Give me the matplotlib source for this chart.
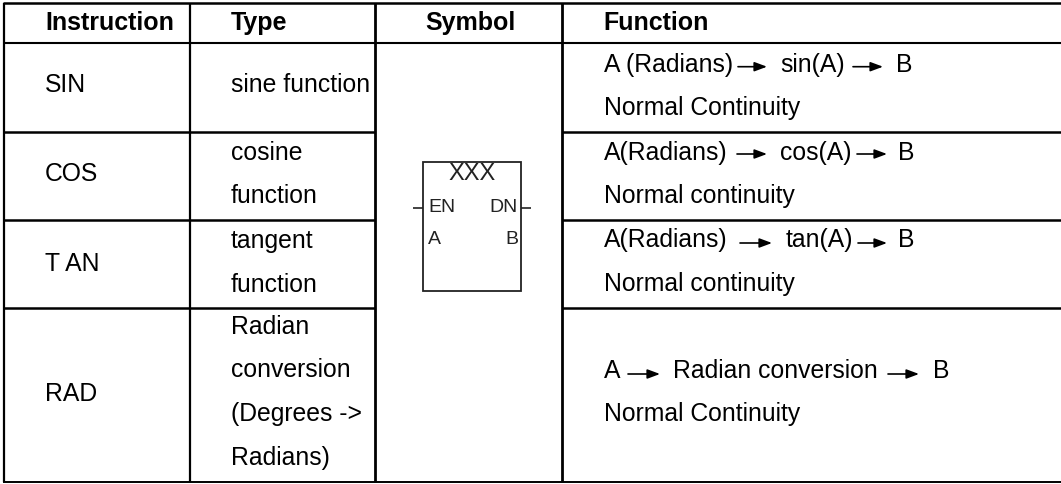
import matplotlib
matplotlib.use("Agg")
import matplotlib.pyplot as plt
from matplotlib.patches import Rectangle

# table content
headers = ["Instruction", "Type", "Symbol", "Function"]
instructions = ["SIN", "COS", "T AN", "RAD"]
types = [["sine function"], ["cosine", "function"], ["tangent", "function"],
         ["Radian", "conversion", "(Degrees ->", "Radians)"]]
functions = [
    [("A (Radians)", "sin(A)", "B"), "Normal Continuity"],
    [("A(Radians)", "cos(A)", "B"), "Normal continuity"],
    [("A(Radians)", "tan(A)", "B"), "Normal continuity"],
    [("A", "Radian conversion", "B"), "Normal Continuity"],
]

BODY = "Liberation Sans"
BODY_SIZE = 17.8

fig = plt.figure(figsize=(10.61, 4.84), dpi=100)
ax = fig.add_axes([0, 0, 1, 1])
ax.set_xlim(0, 1061)
ax.set_ylim(484, 0)
ax.axis("off")

col_x = [3.5, 189.5, 375, 562, 1061]
row_y = [3.3, 43.3, 131.5, 220, 307.7, 482]


def line(x0, y0, x1, y1, lw=1.8, color="#000000"):
    ax.plot([x0, x1], [y0, y1], color=color, lw=lw, solid_capstyle="butt")


def body(x, y, s, ha="left"):
    ax.text(x, y, s, family=BODY, fontsize=BODY_SIZE, ha=ha, va="center", color="#000000")


def arrow(x0, x1, y):
    ax.annotate("", xy=(x1, y), xytext=(x0, y),
                arrowprops=dict(arrowstyle="-|>,head_length=0.75,head_width=0.28",
                                color="black", lw=1.2, shrinkA=0, shrinkB=0))


# grid lines
line(col_x[0] - 1, row_y[0], col_x[4], row_y[0])
line(col_x[0], row_y[1], col_x[4], row_y[1], lw=1.5)
line(col_x[0] - 1, row_y[5], col_x[4], row_y[5], lw=1.4)
for y in row_y[2:5]:
    line(col_x[0], y, col_x[2], y)
    line(col_x[3], y, col_x[4], y)
for x in col_x[:2]:
    line(x, row_y[0], x, row_y[5], lw=1.6)
for x in col_x[2:4]:
    line(x, row_y[0], x, row_y[5], lw=2.0)

# header
header_x = [45, 231, 425, 603]
for x, s in zip(header_x, headers):
    ax.text(x, 23, s, family="Liberation Sans", fontsize=18, fontweight="bold",
            ha="left", va="center", color="#000000")

# first two columns
instr_y = [85, 174, 264, 394]
for y, s in zip(instr_y, instructions):
    body(45, y, s)

type_y = [[85], [153, 196], [241, 285], [327, 370, 414, 458]]
for ys, lines in zip(type_y, types):
    for y, s in zip(ys, lines):
        body(231, y, s)

# function column: arrows sit between the three parts of each first line
func_y = [[65, 108], [153, 196], [240, 284], [371, 414]]
part_x = [[604, 780, 896], [604, 780, 898], [604, 786, 898], [604, 673, 933]]
arrow_x = [[738, 767, 853, 883], [737, 767, 857, 887], [740, 772, 858, 887], [628, 660, 888, 919]]
arrow_y = [66.7, 154, 243, 374]
for ys, parts, xs, a_pos, a_y in zip(func_y, functions, part_x, arrow_x, arrow_y):
    first, second = parts
    for x, s in zip(xs, first):
        body(x, ys[0], s)
    arrow(a_pos[0], a_pos[1], a_y)
    arrow(a_pos[2], a_pos[3], a_y)
    body(604, ys[1], second)

# ladder block symbol
ax.add_patch(Rectangle((423, 162), 98, 129, fill=False, ec="#222222", lw=1.3))
line(413, 208, 423, 208, lw=1.2, color="#222222")
line(521, 208, 531, 208, lw=1.2, color="#222222")
sym = dict(family="Liberation Sans", va="center", color="#222222")
ax.text(472, 174, "XXX", ha="center", fontsize=17, **sym)
ax.text(428, 208, "EN", ha="left", fontsize=14, **sym)
ax.text(518, 208, "DN", ha="right", fontsize=14, **sym)
ax.text(428, 239, "A", ha="left", fontsize=14, **sym)
ax.text(518, 239, "B", ha="right", fontsize=14, **sym)

fig.savefig("out.png", dpi=100, facecolor="white")
